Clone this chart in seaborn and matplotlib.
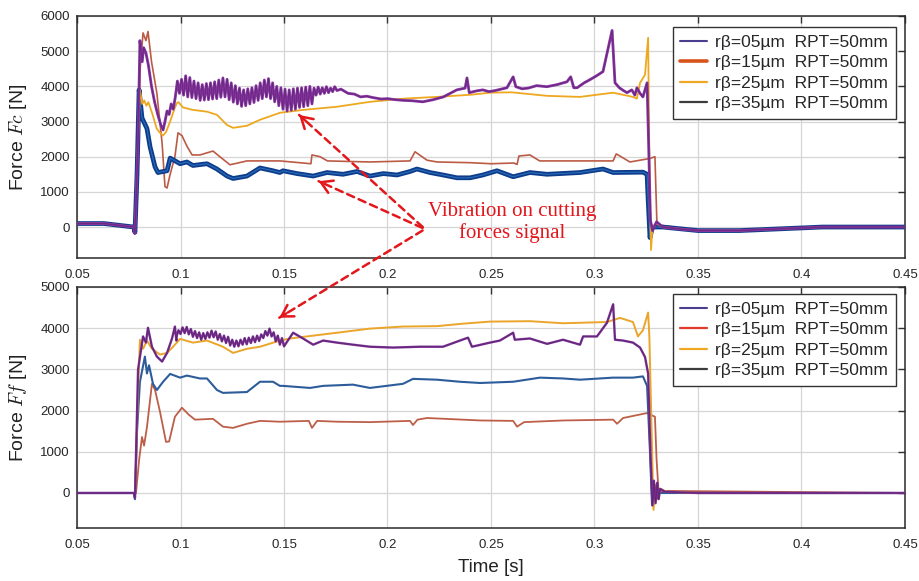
import matplotlib
matplotlib.use('Agg')

import matplotlib.pyplot as plt
from matplotlib.lines import Line2D
from matplotlib.patches import FancyArrowPatch
import seaborn as sns

# ---- tick labels / legend text ----
X_TICKS = [0.05, 0.1, 0.15, 0.2, 0.25, 0.3, 0.35, 0.4, 0.45]
X_TICK_LABELS = ['0.05', '0.1', '0.15', '0.2', '0.25', '0.3', '0.35', '0.4', '0.45']
FC_TICKS = [0, 1000, 2000, 3000, 4000, 5000, 6000]
FF_TICKS = [0, 1000, 2000, 3000, 4000, 5000]
LEGEND_LABELS = ['rβ=05µm  RPT=50mm', 'rβ=15µm  RPT=50mm',
                 'rβ=25µm  RPT=50mm', 'rβ=35µm  RPT=50mm']

# ---- cutting force Fc ----
fc05_t = [0.050, 0.063, 0.0775, 0.0780, 0.0795, 0.0804, 0.0815, 0.0822, 0.0833, 0.0845,
          0.0860, 0.0875, 0.0890, 0.0905, 0.0916, 0.0925, 0.0935, 0.0945, 0.0955, 0.0965,
          0.0975, 0.0985, 0.0995, 0.1005, 0.1015, 0.1025, 0.1035, 0.1045, 0.1055, 0.1065,
          0.1075, 0.1085, 0.1095, 0.1105, 0.1115, 0.1125, 0.1135, 0.1145, 0.1155, 0.1165,
          0.1175, 0.1185, 0.1195, 0.1205, 0.1215, 0.1225, 0.1235, 0.1245, 0.1255, 0.1265,
          0.1275, 0.1285, 0.1295, 0.1305, 0.1315, 0.1325, 0.1335, 0.1345, 0.1355, 0.1365,
          0.1375, 0.1385, 0.1395, 0.1405, 0.1415, 0.1425, 0.1435, 0.1445, 0.1455, 0.1465,
          0.1475, 0.1485, 0.1495, 0.1505, 0.1515, 0.1525, 0.1535, 0.1545, 0.1555, 0.1565,
          0.1575, 0.1585, 0.1595, 0.1605, 0.1615, 0.1625, 0.1635, 0.1645,
          0.1655, 0.1665, 0.1675, 0.1685, 0.1695, 0.1705, 0.1715, 0.1725, 0.1735, 0.1745,
          0.1756, 0.1775, 0.181, 0.184, 0.187, 0.190, 0.193, 0.197, 0.200, 0.204,
          0.208, 0.212, 0.217, 0.222, 0.227, 0.2335, 0.2375, 0.2384, 0.2395, 0.243,
          0.246, 0.249, 0.252, 0.2577, 0.2607, 0.262, 0.265, 0.268, 0.272, 0.277,
          0.282, 0.2867, 0.2885, 0.2900, 0.2916, 0.2950, 0.2978, 0.3010, 0.3041, 0.3075,
          0.3085, 0.3099, 0.312, 0.314, 0.3157, 0.318, 0.3195, 0.3205, 0.3220, 0.3234,
          0.3254, 0.3263, 0.3270, 0.3280, 0.3300, 0.333, 0.340, 0.350, 0.370, 0.390,
          0.410, 0.450]
fc05_v = [100, 100, 0, -180, 2500, 5300, 4700, 5100, 4950, 4600,
          4000, 3550, 3200, 2900, 2760, 3000, 3300, 3200, 3500, 3350,
          3700, 4150, 3800, 4200, 3750, 4300, 3700, 4250, 3680, 4150,
          3650, 4100, 3600, 4050, 3610, 4080, 3620, 4100, 3640, 4130,
          3650, 4180, 3690, 4240, 3700, 4200, 3620, 4100, 3550, 4020,
          3500, 3950, 3430, 3900, 3450, 3930, 3500, 3960, 3540, 4020,
          3600, 4100, 3650, 4180, 3700, 4220, 3650, 4100, 3560, 4000,
          3450, 3960, 3350, 3920, 3300, 3900, 3320, 3930, 3350, 3950,
          3400, 3960, 3420, 3980, 3450, 4000, 3500, 3950,
          3750, 3980, 3780, 3960, 3800, 3990, 3820, 3950, 3850, 3990,
          3880, 3920, 3800, 3780, 3700, 3720, 3680, 3640, 3650, 3620,
          3600, 3590, 3560, 3620, 3700, 3900, 3950, 4240, 3820, 3870,
          3900, 3850, 3880, 3960, 4270, 3990, 3930, 3950, 4020, 3990,
          4050, 4130, 4270, 3960, 3960, 4100, 4190, 4300, 4420, 5330,
          5590, 4100, 3960, 3880, 3820, 3900, 3750, 3960, 3800, 3700,
          4100, 2000, 200, -100, 150, 0, -50, -100, -100, -50,
          0, 0]

fc15_t = [0.050, 0.063, 0.0775, 0.0785, 0.0795, 0.0805, 0.0819, 0.0833, 0.0843, 0.0860,
          0.0886, 0.0911, 0.0925, 0.0935, 0.0950, 0.0973, 0.0988, 0.1007, 0.1031, 0.1056,
          0.1094, 0.1157, 0.1190, 0.1239, 0.1321, 0.1480, 0.1630, 0.1635, 0.1674, 0.1710,
          0.1915, 0.2109, 0.2133, 0.2191, 0.2240, 0.2399, 0.2500, 0.2610, 0.2626, 0.2635,
          0.2688, 0.2735, 0.2930, 0.3090, 0.3105, 0.3171, 0.3268, 0.3292, 0.3297, 0.3302,
          0.332, 0.350, 0.370, 0.410, 0.450]
fc15_v = [100, 100, 0, -100, 1500, 4500, 5520, 5300, 5560, 4700,
          3800, 2390, 1150, 1110, 1500, 2000, 2680, 2600, 2300, 2050,
          2050, 2160, 2000, 1770, 1880, 1880, 1800, 2050, 2000, 1880,
          1850, 1880, 2140, 1900, 1850, 1830, 1800, 1820, 1780, 2020,
          2050, 1880, 1880, 1880, 2080, 1850, 1950, 2000, 1000, 0,
          50, -100, -100, 0, 0]

fc25_t = [0.050, 0.063, 0.0775, 0.0780, 0.0795, 0.0804, 0.0815, 0.0825, 0.0835, 0.0845,
          0.0865, 0.0885, 0.0901, 0.0915, 0.0930, 0.0950, 0.0970, 0.0983, 0.0990, 0.1012,
          0.1060, 0.1128, 0.1176, 0.1225, 0.1254, 0.1321, 0.1384, 0.1481, 0.1592, 0.1756,
          0.1915, 0.2075, 0.2239, 0.2399, 0.2495, 0.2600, 0.2771, 0.2930, 0.3090, 0.3186,
          0.3205, 0.3220, 0.3244, 0.3259, 0.3265, 0.3273, 0.3280, 0.3300, 0.3330, 0.3500,
          0.3700, 0.4100, 0.4500]
fc25_v = [100, 100, 0, -150, 2500, 3900, 3500, 3600, 3450, 3550,
          3200, 2800, 2680, 2600, 2700, 3000, 3350, 3530, 3550, 3400,
          3330, 3280, 3190, 2900, 2820, 2880, 3050, 3250, 3330, 3420,
          3560, 3650, 3700, 3760, 3820, 3830, 3730, 3700, 3820, 3700,
          3650, 4100, 4330, 5380, 2000, -655, 0, 100, 0, -100,
          -100, 0, 0]

fc35_t = [0.050, 0.063, 0.0775, 0.0780, 0.0790, 0.0800, 0.0814, 0.0838, 0.0853, 0.0877,
          0.0891, 0.0935, 0.0950, 0.0998, 0.1031, 0.1060, 0.1128, 0.1176, 0.1225, 0.1254,
          0.1321, 0.1384, 0.1447, 0.1480, 0.1495, 0.1563, 0.1641, 0.1708, 0.1785, 0.1853,
          0.1915, 0.1980, 0.2046, 0.2109, 0.2142, 0.2205, 0.2268, 0.2336, 0.2399, 0.2461,
          0.2529, 0.2607, 0.2688, 0.2771, 0.2930, 0.3041, 0.3090, 0.3234, 0.3254, 0.3259,
          0.3268, 0.3280, 0.3330, 0.3500, 0.3700, 0.4100, 0.4500]
fc35_v = [100, 100, 0, -150, 1500, 3900, 3100, 2800, 2280, 1710,
          1550, 1600, 1960, 1800, 1850, 1750, 1800, 1650, 1450, 1380,
          1450, 1680, 1600, 1550, 1600, 1520, 1450, 1550, 1500, 1580,
          1450, 1520, 1480, 1580, 1650, 1550, 1480, 1400, 1400, 1480,
          1600, 1430, 1550, 1500, 1550, 1650, 1550, 1560, 1500, 800,
          -300, 0, 0, -100, -100, 0, 0]

# ---- feed force Ff ----
ff05_t = [0.050, 0.0775, 0.0780, 0.0795, 0.0819, 0.0833, 0.0843, 0.0862, 0.0886, 0.0911,
          0.0935, 0.0959, 0.0973, 0.0980,
          0.098, 0.099, 0.100, 0.101, 0.102, 0.103, 0.104, 0.105, 0.106, 0.107,
          0.108, 0.109, 0.110, 0.111, 0.112, 0.113, 0.114, 0.115, 0.116, 0.117,
          0.118, 0.119, 0.120, 0.121, 0.122, 0.123, 0.124, 0.125, 0.126, 0.127,
          0.128, 0.129, 0.130, 0.131, 0.132, 0.133, 0.134, 0.135, 0.136, 0.137,
          0.138, 0.139, 0.140, 0.141, 0.142, 0.143, 0.144, 0.145, 0.146, 0.147,
          0.148, 0.149, 0.150,
          0.1544, 0.1592, 0.1641, 0.1689, 0.1756, 0.1833, 0.1915, 0.2027, 0.2157, 0.2268,
          0.2350, 0.2389, 0.2408, 0.2495, 0.2543, 0.2607, 0.2615, 0.2688, 0.2771, 0.2848,
          0.2930, 0.2945, 0.3012, 0.3060, 0.3090, 0.3099, 0.3138, 0.3186, 0.3220, 0.3244,
          0.3259, 0.3270, 0.3280, 0.3287, 0.3295, 0.3303, 0.3310, 0.3317, 0.3340, 0.3500,
          0.4500]
ff05_v = [0, 0, -120, 3000, 3800, 3650, 4010, 3550, 3310, 3190,
          3400, 3750, 4040, 3700,
          3780, 3950, 3860, 4020, 3880, 4030, 3850, 3980, 3790, 3930,
          3760, 3900, 3720, 3880, 3740, 3900, 3770, 3940, 3780, 3920,
          3720, 3860, 3680, 3820, 3640, 3790, 3580, 3720, 3550, 3700,
          3560, 3720, 3600, 3760, 3610, 3770, 3640, 3800, 3660, 3820,
          3690, 3850, 3760, 3930, 3820, 3990, 3800, 3900, 3680, 3820,
          3600, 3760, 3560,
          3890, 3750, 3600, 3700, 3650, 3600, 3550, 3530, 3550, 3550,
          3700, 3770, 3550, 3650, 3700, 3890, 3720, 3750, 3620, 3720,
          3600, 3800, 3800, 4130, 4580, 3720, 3700, 3650, 3530, 3300,
          2900, 1000, -300, 300, -250, 250, -150, 100, 30, 0,
          0]

ff15_t = [0.050, 0.0785, 0.0800, 0.0814, 0.0824, 0.0838, 0.0862, 0.0877, 0.0901, 0.0930,
          0.0945, 0.0973, 0.1007, 0.1040, 0.1070, 0.1157, 0.1205, 0.1254, 0.1321, 0.1384,
          0.1480, 0.1620, 0.1635, 0.1660, 0.1756, 0.1915, 0.2109, 0.2123, 0.2145, 0.2191,
          0.2450, 0.2607, 0.2626, 0.2660, 0.2848, 0.3090, 0.3109, 0.3138, 0.3254, 0.3292,
          0.3300, 0.3310, 0.3340, 0.4500]
ff15_v = [0, 0, 800, 1360, 1150, 1600, 2650, 2500, 1970, 1240,
          1250, 1850, 2070, 1900, 1780, 1800, 1610, 1580, 1680, 1750,
          1730, 1750, 1580, 1750, 1730, 1720, 1750, 1650, 1780, 1820,
          1760, 1750, 1610, 1720, 1760, 1780, 1680, 1820, 1940, 1850,
          800, 0, 50, 0]

ff25_t = [0.050, 0.0775, 0.0780, 0.0795, 0.0804, 0.0819, 0.0838, 0.0862, 0.0901, 0.0935,
          0.0964, 0.0998, 0.1060, 0.1128, 0.1205, 0.1254, 0.1321, 0.1384, 0.1480, 0.1529,
          0.1756, 0.1915, 0.2075, 0.2239, 0.2365, 0.2495, 0.2688, 0.2848, 0.3060, 0.3123,
          0.3186, 0.3210, 0.3234, 0.3259, 0.3265, 0.3285, 0.3295, 0.3305, 0.3320, 0.3350,
          0.3500, 0.4500]
ff25_v = [0, 0, -100, 2500, 3720, 3500, 3700, 3500, 3360, 3400,
          3550, 3740, 3650, 3700, 3550, 3400, 3500, 3550, 3700, 3750,
          3890, 3990, 4040, 4050, 4110, 4160, 4170, 4120, 4150, 4250,
          4150, 3800, 3950, 4380, 3800, -410, 200, -150, 100, 30,
          0, 0]

ff35_t = [0.050, 0.0775, 0.0780, 0.0790, 0.0804, 0.0828, 0.0838, 0.0848, 0.0867, 0.0886,
          0.0916, 0.0950, 0.0998, 0.1031, 0.1094, 0.1128, 0.1176, 0.1205, 0.1321, 0.1384,
          0.1447, 0.1480, 0.1495, 0.1626, 0.1689, 0.1833, 0.1915, 0.2075, 0.2123, 0.2239,
          0.2350, 0.2447, 0.2607, 0.2737, 0.2848, 0.2930, 0.3090, 0.3186, 0.3234, 0.3254,
          0.3268, 0.3278, 0.3290, 0.3310, 0.4500]
ff35_v = [0, 0, -150, 1500, 2700, 3310, 2900, 3100, 2650, 2500,
          2700, 2890, 2800, 2850, 2780, 2780, 2500, 2430, 2450, 2700,
          2700, 2600, 2600, 2550, 2600, 2630, 2550, 2650, 2770, 2750,
          2700, 2670, 2700, 2800, 2780, 2750, 2800, 2800, 2830, 2600,
          1000, -300, 100, 0, 0]

# ---- style ----
sns.set_theme(style="whitegrid")
plt.rcParams['font.family'] = ['Liberation Sans', 'DejaVu Sans']
plt.rcParams['mathtext.fontset'] = 'cm'

RED = '#e3161b'
LEGEND_TOP = ['#4a3f8e', '#d9541a', '#f0a824', '#3c3c3c']
LEGEND_BOT = ['#4a3f8e', '#df3b28', '#f0a824', '#3c3c3c']

fig = plt.figure(figsize=(9.19, 5.81), dpi=100)
fig.patch.set_facecolor('white')
ax1 = fig.add_axes([77 / 919, 323 / 581, 828 / 919, 242 / 581])
ax2 = fig.add_axes([77 / 919, 53 / 581, 828 / 919, 241 / 581])


def draw(ax, t, v, color, lw, z=2, alpha=1.0):
    sns.lineplot(x=t, y=v, ax=ax, color=color, linewidth=lw, alpha=alpha,
                 estimator=None, sort=False, zorder=z)


# top panel
draw(ax1, fc15_t, fc15_v, '#bb5b45', 1.2, 2)
draw(ax1, fc35_t, fc35_v, '#0d3c8c', 3.4, 3)
draw(ax1, fc35_t, fc35_v, '#2a6db8', 0.8, 3)
draw(ax1, fc25_t, fc25_v, '#eda820', 1.3, 4)
draw(ax1, fc05_t, fc05_v, '#8532a0', 2.0, 5)
draw(ax1, fc05_t, fc05_v, '#3b1d48', 0.4, 5, 0.6)

# bottom panel
draw(ax2, ff15_t, ff15_v, '#bd5f48', 1.3, 2)
draw(ax2, ff35_t, ff35_v, '#2c5d9a', 1.5, 3)
draw(ax2, ff25_t, ff25_v, '#eaa52a', 1.4, 4)
draw(ax2, ff05_t, ff05_v, '#7a2e93', 1.7, 5)
draw(ax2, ff05_t, ff05_v, '#3b1d48', 0.4, 5, 0.6)

for ax, ticks, lim in [(ax1, FC_TICKS, (-880, 6000)), (ax2, FF_TICKS, (-850, 5000))]:
    ax.set_facecolor('white')
    ax.set_xlim(0.05, 0.45)
    ax.set_ylim(*lim)
    ax.set_xticks(X_TICKS)
    ax.set_xticklabels(X_TICK_LABELS)
    ax.set_yticks(ticks)
    ax.grid(True, color='#d6d6d6', linewidth=0.9)
    ax.set_axisbelow(True)
    ax.tick_params(direction='in', top=True, right=True, length=5, width=1,
                   color='#333333', labelsize=9.5, labelcolor='#262626')
    ax.tick_params(axis='x', pad=8)
    ax.tick_params(axis='y', pad=5)
    for s in ax.spines.values():
        s.set_visible(True)
        s.set_color('#2a2a2a')
        s.set_linewidth(1.1)

ax1.set_xlabel('')
ax1.set_ylabel('Force $Fc$ [N]', fontsize=14, color='#222222', labelpad=8)
ax2.set_ylabel("Force $Ff$ [N]", fontsize=14, color='#222222', labelpad=8)
ax2.set_xlabel('Time [s]', fontsize=13.5, color='#222222', labelpad=6)

# legends
for ax, cols, widths, anchor in [
        (ax1, LEGEND_TOP, [1.5, 2.6, 1.6, 1.6], (896 / 919, 554 / 581)),
        (ax2, LEGEND_BOT, [1.5, 1.6, 1.6, 1.6], (896 / 919, 287 / 581))]:
    handles = [Line2D([], [], color=c, lw=w) for c, w in zip(cols, widths)]
    leg = ax.legend(handles, LEGEND_LABELS, loc='upper right', bbox_to_anchor=anchor,
                    bbox_transform=fig.transFigure, borderaxespad=0, fontsize=12.5,
                    labelspacing=0.3, handlelength=1.5, handletextpad=0.5,
                    borderpad=0.45, frameon=True, fancybox=False, framealpha=1)
    leg.get_frame().set_edgecolor('#333333')
    leg.get_frame().set_linewidth(1.0)
    leg.set_zorder(10)

# annotation
ax1.text(0.2601, 140, 'Vibration on cutting\nforces signal', ha='center', va='center',
         fontsize=15, color=RED, family=['Liberation Serif', 'DejaVu Serif'],
         linespacing=1.15, zorder=8)

origin = fig.transFigure.inverted().transform(ax1.transData.transform((0.2181, -57)))
targets = [ax1.transData.transform((0.1563, 3240)),
           ax1.transData.transform((0.1655, 1336)),
           ax2.transData.transform((0.1466, 4220))]
for tgt in targets:
    tgt = fig.transFigure.inverted().transform(tgt)
    fig.add_artist(FancyArrowPatch(
        posA=origin, posB=tgt, transform=fig.transFigure, arrowstyle='-',
        color=RED, lw=1.8, linestyle=(0, (3, 2)), zorder=9))
    fig.add_artist(FancyArrowPatch(
        posA=origin + (tgt - origin) * 0.92, posB=tgt, transform=fig.transFigure,
        arrowstyle='->,head_length=5,head_width=3', mutation_scale=1.6,
        color=RED, lw=1.8, zorder=9))

fig.savefig('out.png', dpi=100, facecolor='white')
